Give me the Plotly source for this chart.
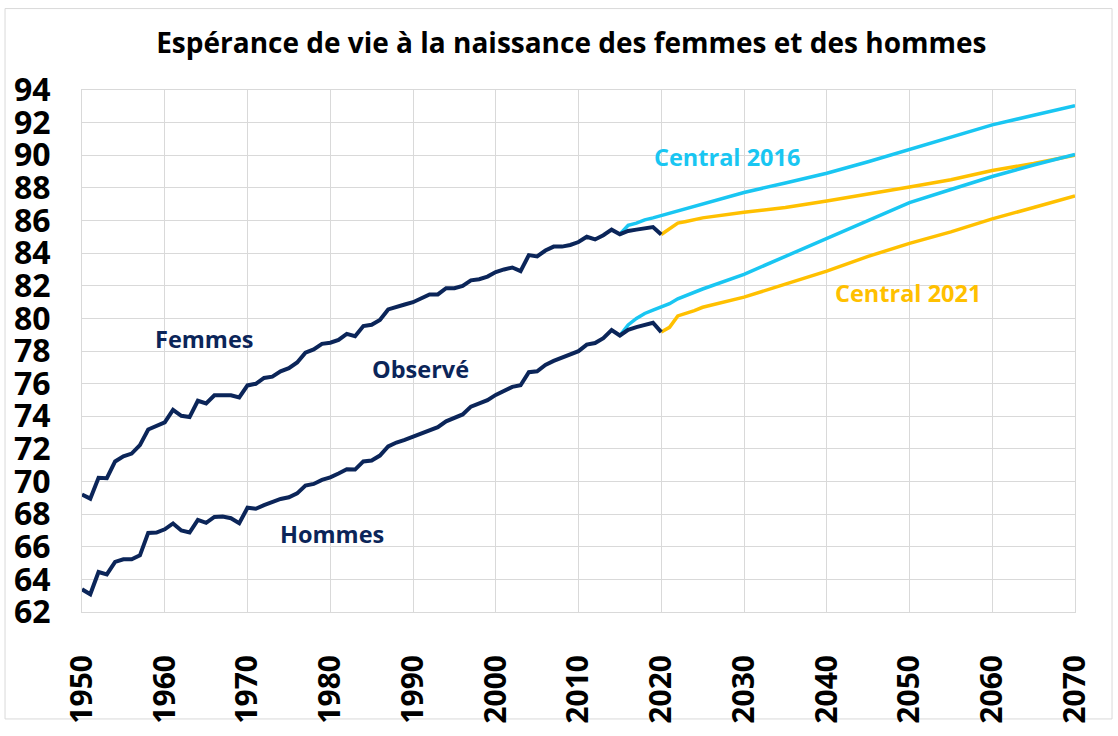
import plotly.graph_objects as go

# ---------------- data ----------------
years_obs = list(range(1950, 2021))
femmes_obs = [69.2, 68.95, 70.23, 70.2, 71.23, 71.55, 71.71, 72.23, 73.19, 73.39,
              73.63, 74.39, 74.03, 73.95, 74.95, 74.79, 75.29, 75.29, 75.29, 75.15,
              75.89, 75.99, 76.35, 76.43, 76.75, 76.95, 77.3, 77.9, 78.1, 78.44,
              78.51, 78.68, 79.05, 78.91, 79.53, 79.61, 79.9, 80.55, 80.73, 80.85,
              80.99, 81.23, 81.47, 81.47, 81.85, 81.85, 81.99, 82.33, 82.4, 82.56,
              82.84, 83.0, 83.12, 82.9, 83.88, 83.8, 84.16, 84.4, 84.4, 84.5,
              84.68, 85.0, 84.84, 85.1, 85.44, 85.16, 85.36, 85.44, 85.5, 85.6,
              85.14]
hommes_obs = [63.39, 63.09, 64.45, 64.31, 65.07, 65.23, 65.23, 65.47, 66.85, 66.87,
              67.07, 67.43, 67.0, 66.87, 67.65, 67.47, 67.83, 67.85, 67.75, 67.45,
              68.39, 68.33, 68.55, 68.75, 68.93, 69.03, 69.27, 69.75, 69.85, 70.1,
              70.25, 70.49, 70.75, 70.73, 71.23, 71.29, 71.59, 72.15, 72.39, 72.55,
              72.75, 72.95, 73.15, 73.33, 73.69, 73.91, 74.11, 74.59, 74.77, 74.99,
              75.31, 75.55, 75.8, 75.9, 76.7, 76.76, 77.15, 77.39, 77.6, 77.75,
              77.99, 78.39, 78.49, 78.79, 79.28, 78.95, 79.3, 79.46, 79.6, 79.73,
              79.16]

years_c2016 = [2015, 2016, 2017, 2018, 2019, 2020, 2021, 2022, 2025, 2030,
               2035, 2040, 2045, 2050, 2055, 2060, 2065, 2070]
femmes_c2016 = [85.16, 85.7, 85.84, 86.04, 86.16, 86.3, 86.44, 86.6, 87.05, 87.72,
                88.3, 88.9, 89.6, 90.34, 91.1, 91.86, 92.45, 93.04]
hommes_c2016 = [78.95, 79.6, 80.0, 80.3, 80.5, 80.7, 80.9, 81.2, 81.8, 82.7,
                83.8, 84.9, 86.0, 87.1, 87.9, 88.7, 89.4, 90.05]

years_c2021 = [2020, 2021, 2022, 2023, 2024, 2025, 2030, 2035, 2040, 2045,
               2050, 2055, 2060, 2065, 2070]
femmes_c2021 = [85.14, 85.5, 85.84, 85.94, 86.04, 86.16, 86.5, 86.8, 87.2, 87.6,
                88.05, 88.5, 89.06, 89.5, 90.0]
hommes_c2021 = [79.16, 79.45, 80.15, 80.3, 80.48, 80.68, 81.3, 82.1, 82.9, 83.8,
                84.6, 85.3, 86.1, 86.8, 87.5]

x_ticks = list(range(1950, 2071, 10))
y_ticks = list(range(62, 95, 2))

# ---------------- style ----------------
NAVY = "#0b2559"
CYAN = "#19c6f2"
GOLD = "#ffc000"
GRID = "#d9d9d9"
FONT = "Open Sans"

fig = go.Figure()
for ys in (femmes_c2021, hommes_c2021):
    fig.add_trace(go.Scatter(x=years_c2021, y=ys, mode="lines",
                             line=dict(color=GOLD, width=3.5), hoverinfo="skip"))
for ys in (femmes_c2016, hommes_c2016):
    fig.add_trace(go.Scatter(x=years_c2016, y=ys, mode="lines",
                             line=dict(color=CYAN, width=3.5), hoverinfo="skip"))
for ys in (femmes_obs, hommes_obs):
    fig.add_trace(go.Scatter(x=years_obs, y=ys, mode="lines",
                             line=dict(color=NAVY, width=4), hoverinfo="skip"))

labels = [
    ("Femmes", 1964.75, 78.73, NAVY),
    ("Observé", 1990.9, 76.92, NAVY),
    ("Hommes", 1980.2, 66.76, NAVY),
    ("Central 2016", 2027.9, 89.91, CYAN),
    ("Central 2021", 2049.8, 81.55, GOLD),
]
for txt, x, y, c in labels:
    fig.add_annotation(x=x, y=y, text=txt, showarrow=False,
                       font=dict(family=FONT, size=23.5, color=c, weight="bold"),
                       xanchor="center", yanchor="middle")

fig.update_layout(
    width=1118, height=736,
    margin=dict(l=82, r=43, t=90, b=114),
    paper_bgcolor="white", plot_bgcolor="white",
    showlegend=False,
    title=dict(text="Espérance de vie à la naissance des femmes et des hommes",
               x=0.511, xref="container", xanchor="center",
               y=0.9416, yref="container", yanchor="middle",
               font=dict(family=FONT, size=28, color="black", weight="bold")),
    shapes=[dict(type="rect", xref="paper", yref="paper",
                 x0=-0.0775, x1=1.0373, y0=-0.2049, y1=1.156,
                 line=dict(color=GRID, width=1), fillcolor="rgba(0,0,0,0)",
                 layer="below")],
)
fig.update_xaxes(range=[1950, 2070], tickvals=x_ticks, ticktext=[str(v) for v in x_ticks],
                 tickangle=-90, showgrid=True, gridcolor=GRID, gridwidth=1,
                 showline=True, linecolor=GRID, linewidth=1, mirror=True,
                 zeroline=False, ticks="", ticklabelstandoff=30,
                 tickfont=dict(family=FONT, size=30, color="black", weight="bold"))
fig.update_yaxes(range=[62, 94], tickvals=y_ticks, ticktext=[str(v) for v in y_ticks],
                 showgrid=True, gridcolor=GRID, gridwidth=1,
                 showline=True, linecolor=GRID, linewidth=1, mirror=True,
                 zeroline=False, ticks="", ticklabelstandoff=24,
                 tickfont=dict(family=FONT, size=32, color="black", weight="bold"))

fig.write_html("out.html",
               config={"displayModeBar": False},
               post_script="document.body.style.margin='0px';"
                           "document.body.style.overflow='hidden';")
